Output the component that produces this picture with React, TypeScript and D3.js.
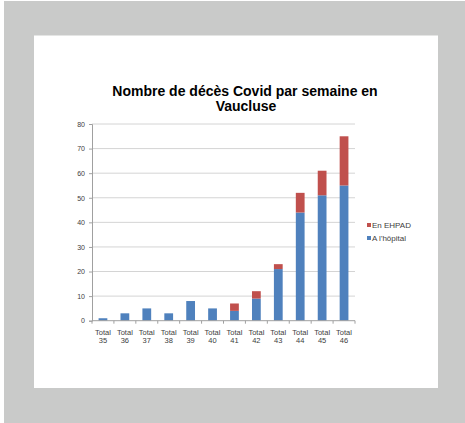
import React, { useRef, useEffect } from 'react';
import * as d3 from 'd3';

const weeks = ['35', '36', '37', '38', '39', '40', '41', '42', '43', '44', '45', '46'];
const hopital = [1, 3, 5, 3, 8, 5, 4, 9, 21, 44, 51, 55];
const ehpad = [0, 0, 0, 0, 0, 0, 3, 3, 2, 8, 10, 20];
const seriesNames = ['A l\'hôpital', 'En EHPAD'];
const seriesColors = ['#4f81bd', '#c0504d'];
const yTicks = [0, 10, 20, 30, 40, 50, 60, 70, 80];

const width = 465;
const height = 423;

const App: React.FC = () => {
  const svgRef = useRef<SVGSVGElement>(null);

  useEffect(() => {
    if (!svgRef.current) return;
    const svg = d3.select(svgRef.current);
    svg.selectAll('*').remove();

    // page background (scanned-slide look)
    svg.append('rect').attr('width', width).attr('height', height).attr('fill', '#ffffff');
    svg.append('rect').attr('x', 4).attr('y', 1).attr('width', width - 4).attr('height', height - 1).attr('fill', '#c9cac9');
    svg.append('rect').attr('x', 34).attr('y', 35.5).attr('width', 404).attr('height', 352.5).attr('fill', '#ffffff');

    const font = 'Liberation Sans, Arial, sans-serif';

    // title
    const title = svg.append('text')
      .attr('text-anchor', 'middle')
      .style('font-family', font)
      .style('font-size', '14px')
      .style('font-weight', 'bold')
      .style('fill', '#000');
    title.append('tspan').attr('x', 245).attr('y', 96).text('Nombre de décès Covid par semaine en');
    title.append('tspan').attr('x', 246).attr('y', 111).text('Vaucluse');

    const left = 92;
    const right = 355;
    const top = 124;
    const bottom = 320.7;

    const x = d3.scaleBand<string>().domain(weeks).range([left, right]).paddingInner(0.6).paddingOuter(0.3);
    const xOuter = d3.scaleBand<string>().domain(weeks).range([left, right]);
    const y = d3.scaleLinear().domain([0, 80]).range([bottom, top]);

    // gridlines
    svg.append('g').selectAll('line')
      .data(yTicks.filter(t => t > 0))
      .enter()
      .append('line')
      .attr('x1', left)
      .attr('x2', right)
      .attr('y1', d => y(d))
      .attr('y2', d => y(d))
      .attr('stroke', '#d4d4d4')
      .attr('stroke-width', 1);

    // y axis
    const yAxis = svg.append('g')
      .attr('transform', `translate(${left},0)`)
      .call(d3.axisLeft(y).tickValues(yTicks).tickSize(3).tickPadding(4));
    yAxis.select('.domain').attr('stroke', '#a0a0a0');
    yAxis.selectAll('.tick line').attr('stroke', '#a0a0a0');
    yAxis.selectAll('.tick text')
      .style('font-family', font)
      .style('font-size', '7px')
      .style('fill', '#404040');

    // stacked bars
    const rows = weeks.map((w, i) => ({ week: w, hopital: hopital[i], ehpad: ehpad[i] }));
    const stack = d3.stack<{ week: string; hopital: number; ehpad: number }>().keys(['hopital', 'ehpad']);
    const layers = stack(rows);

    svg.append('g').selectAll('g')
      .data(layers)
      .enter()
      .append('g')
      .attr('fill', (d, i) => seriesColors[i])
      .selectAll('rect')
      .data(d => d.filter(p => p[1] > p[0]))
      .enter()
      .append('rect')
      .attr('x', d => x(d.data.week) as number)
      .attr('width', x.bandwidth())
      .attr('y', d => y(d[1]))
      .attr('height', d => y(d[0]) - y(d[1]));

    // x axis
    const xAxisG = svg.append('g').attr('transform', `translate(0,${bottom})`);
    xAxisG.append('line')
      .attr('x1', left).attr('x2', right)
      .attr('stroke', '#a0a0a0');
    xAxisG.selectAll('.xtick')
      .data(weeks.concat(['end']))
      .enter()
      .append('line')
      .attr('x1', (d, i) => i < weeks.length ? (xOuter(d) as number) : right)
      .attr('x2', (d, i) => i < weeks.length ? (xOuter(d) as number) : right)
      .attr('y1', 0)
      .attr('y2', 3)
      .attr('stroke', '#a0a0a0');

    const labels = xAxisG.selectAll('.xlabel')
      .data(weeks)
      .enter()
      .append('text')
      .attr('text-anchor', 'middle')
      .style('font-family', font)
      .style('font-size', '7.5px')
      .style('fill', '#404040');
    labels.append('tspan')
      .attr('x', d => (xOuter(d) as number) + xOuter.bandwidth() / 2)
      .attr('y', 14)
      .text('Total');
    labels.append('tspan')
      .attr('x', d => (xOuter(d) as number) + xOuter.bandwidth() / 2)
      .attr('y', 22)
      .text(d => d);

    // legend (EHPAD on top, as in the stacking order)
    const legend = svg.append('g').attr('transform', 'translate(367,225)');
    const legendItems = legend.selectAll('.legend-item')
      .data([1, 0])
      .enter()
      .append('g')
      .attr('transform', (d, i) => `translate(0, ${i * 13})`);
    legendItems.append('rect')
      .attr('x', 0)
      .attr('y', -2)
      .attr('width', 4)
      .attr('height', 4)
      .attr('fill', d => seriesColors[d]);
    legendItems.append('text')
      .attr('x', 5)
      .attr('dy', '0.35em')
      .style('font-family', font)
      .style('font-size', '8px')
      .style('fill', '#404040')
      .text(d => seriesNames[d]);
  }, []);

  return (
    <div style={{ position: 'fixed', left: 0, top: 0 }}>
      <svg ref={svgRef} width={width} height={height} style={{ display: 'block' }} />
    </div>
  );
};

export default App;
